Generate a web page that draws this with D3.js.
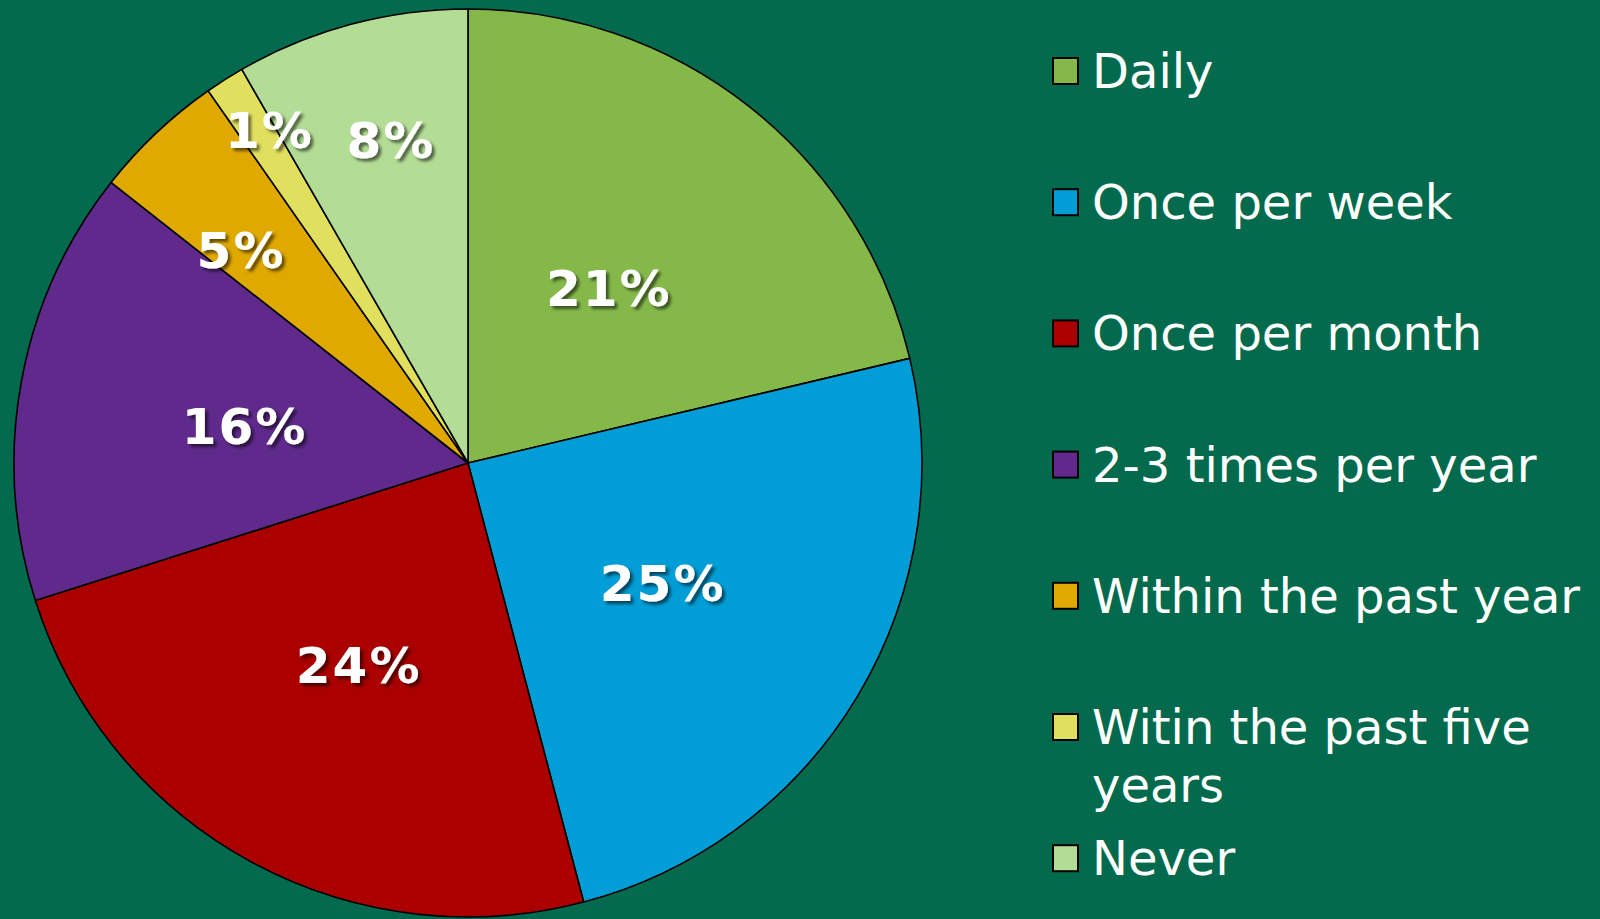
<!DOCTYPE html>
<html>
<head>
<meta charset="utf-8">
<script src="https://cdn.jsdelivr.net/npm/d3@7"></script>
<style>
  html, body { margin: 0; padding: 0; background: #036a4d; overflow: hidden; }
  svg { display: block; }
</style>
</head>
<body>
<svg id="chart" width="1600" height="919"></svg>
<script>
// ---- data ----
const categories = ["Daily", "Once per week", "Once per month", "2-3 times per year",
                    "Within the past year", "Witin the past five years", "Never"];
const values = [21.3, 24.6, 24.2, 15.5, 4.7, 1.4, 8.3];
const colors = ["#84b94a", "#009dd6", "#aa0000", "#5f2a8c", "#e0a900", "#e0e05e", "#b3dc95"];

// ---- layout / style (not data) ----
const W = 1600, H = 919;
const cx = 468, cy = 463, R = 454;
// label placement: [radius factor, position within slice (0..1)]
const labelPlacement = {
  "Within the past year": [0.69, 0.32],
  "Witin the past five years": [0.86, 0.86],
  "Never": [0.738, 0.555]
};
const defaultPlacement = [0.5, 0.5];

const svg = d3.select("#chart");
svg.append("rect").attr("width", W).attr("height", H).attr("fill", "#036a4d");

const defs = svg.append("defs");
const f = defs.append("filter").attr("id", "shadow").attr("x", "-20%").attr("y", "-20%").attr("width", "140%").attr("height", "140%");
f.append("feDropShadow").attr("dx", 3).attr("dy", 3).attr("stdDeviation", 1.6)
  .attr("flood-color", "#000").attr("flood-opacity", 0.55);

const data = categories.map((c, i) => ({ name: c, value: values[i], color: colors[i] }));

const pie = d3.pie().sort(null).value(d => d.value);
const arcs = pie(data);
const arc = d3.arc().innerRadius(0).outerRadius(R);

const g = svg.append("g").attr("transform", `translate(${cx},${cy})`);
g.selectAll("path.slice").data(arcs).enter().append("path")
  .attr("class", "slice")
  .attr("d", arc)
  .attr("fill", d => d.data.color)
  .attr("stroke", "#000")
  .attr("stroke-width", 1.6)
  .attr("stroke-linejoin", "round");

g.selectAll("text.lbl").data(arcs).enter().append("text")
  .attr("class", "lbl")
  .attr("transform", d => {
    const [k, t] = labelPlacement[d.data.name] || defaultPlacement;
    const a = d.startAngle + (d.endAngle - d.startAngle) * t;
    const r = R * k;
    return `translate(${r * Math.sin(a)},${-r * Math.cos(a)})`;
  })
  .attr("text-anchor", "middle")
  .attr("dy", "0.42em")
  .attr("font-family", "'DejaVu Sans', Verdana, sans-serif")
  .attr("font-weight", "bold")
  .attr("font-size", 50)
  .attr("letter-spacing", 2)
  .attr("fill", "#ffffff")
  .attr("filter", "url(#shadow)")
  .text(d => Math.round(d.data.value) + "%");

// ---- legend ----
const legX = 1053, textX = 1092, firstBaseline = 88, rowStep = 131.2, wrapLine = 58, maxTextW = 510;
const leg = svg.append("g");
const items = leg.selectAll("g.item").data(data).enter().append("g").attr("class", "item")
  .attr("transform", (d, i) => `translate(0,${firstBaseline + i * rowStep})`);

items.append("rect")
  .attr("x", legX).attr("y", -30)
  .attr("width", 25).attr("height", 26)
  .attr("fill", d => d.color)
  .attr("stroke", "#000").attr("stroke-width", 2);

items.each(function(d) {
  const t = d3.select(this).append("text")
    .attr("x", textX).attr("y", 0)
    .attr("font-family", "'DejaVu Sans', Verdana, sans-serif")
    .attr("font-size", 48)
    .attr("fill", "#ffffff");
  const words = d.name.split(" ");
  let line = [];
  let tspan = t.append("tspan").attr("x", textX).attr("dy", 0);
  words.forEach(w => {
    line.push(w);
    tspan.text(line.join(" "));
    if (tspan.node().getComputedTextLength() > maxTextW && line.length > 1) {
      line.pop();
      tspan.text(line.join(" "));
      line = [w];
      tspan = t.append("tspan").attr("x", textX).attr("dy", wrapLine).text(w);
    }
  });
});
</script>
</body>
</html>
